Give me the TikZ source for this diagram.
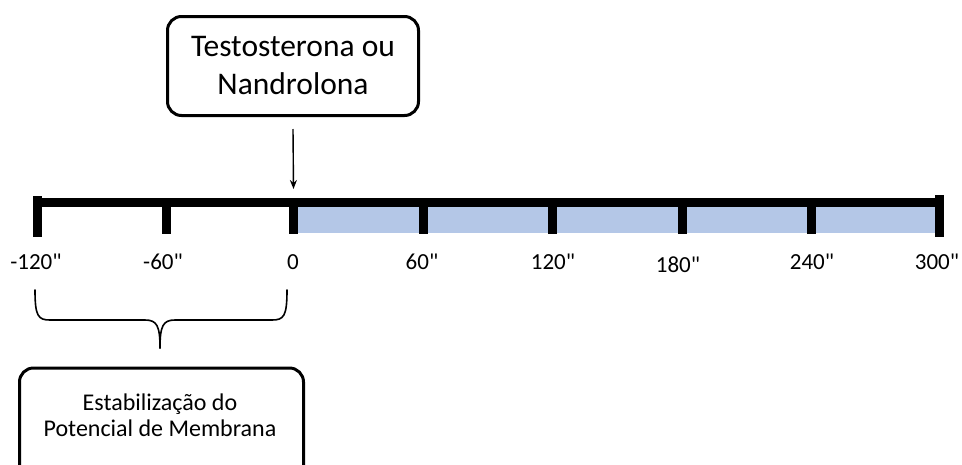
\documentclass[tikz,border=0pt]{standalone}
\usepackage{fontspec}
\setmainfont{Carlito}[Ligatures=TeXOff]
\usetikzlibrary{arrows.meta}
\definecolor{barblue}{HTML}{B4C7E7}
\begin{document}
\begin{tikzpicture}[x=1pt,y=-1pt,
  box/.style={draw, line width=3pt, rounded corners=14pt, align=center, inner sep=0pt},
  lbl/.style={font=\fontsize{23}{27}\selectfont, inner sep=1pt},
  tickbar/.style={line width=9pt},
  bracepath/.style={line width=1.6pt, line cap=round}]
\useasboundingbox (0,0) rectangle (962,464);
\clip (0,0) rectangle (962,464);
% tick coordinates
\coordinate (t0) at (37.5,202);
\coordinate (t1) at (166.5,202);
\coordinate (t2) at (293.5,202);
\coordinate (t3) at (423,202);
\coordinate (t4) at (552.5,202);
\coordinate (t5) at (682,202);
\coordinate (t6) at (811.5,202);
\coordinate (t7) at (939.5,202);
% blue band
\fill[barblue] (t2) rectangle ([yshift=-31pt]t7);
% main bar
\draw[line width=9pt] ([xshift=-4.5pt]t0) -- ([xshift=4.5pt]t7);
% ticks
\draw[tickbar] ([yshift=6pt]t0) -- ([yshift=-35pt]t0);
\foreach \i in {1,...,6}{\draw[tickbar] (t\i) -- ([yshift=-32pt]t\i);}
\draw[tickbar] ([yshift=7pt]t7) -- ([yshift=-35pt]t7);
% labels
\node[lbl] (l0) at (36,262) {-120"};
\node[lbl] (l1) at (163,262) {-60"};
\node[lbl] (l2) at (293,262) {0};
\node[lbl] (l3) at (422,262) {60"};
\node[lbl] (l4) at (553,262) {120"};
\node[lbl] (l5) at (678,265) {180"};
\node[lbl] (l6) at (812,262) {240"};
\node[lbl] (l7) at (937,262) {300"};
% top box and arrow
\node[box, minimum width=251pt, minimum height=99pt,
      font=\fontsize{31.5}{38}\selectfont] (top) at (293,66) {Testosterona ou\\Nandrolona};
\draw[-{Stealth[length=9pt,width=7pt]}, line width=1.4pt] ([yshift=-12pt]top.south) -- ([yshift=13pt]t2);
% brace
\draw[bracepath] (35,290) .. controls (35,316) and (38,320) .. (50,320)
  -- (145,320) .. controls (157,320) and (160,326) .. (160,348);
\draw[bracepath] (287,290) .. controls (287,316) and (284,320) .. (272,320)
  -- (175,320) .. controls (163,320) and (160,326) .. (160,348);
% bottom box
\node[box, minimum width=284pt, minimum height=130pt, anchor=north] (bot) at (161.5,366.5) {};
\node[align=center, font=\fontsize{24}{26}\selectfont] (bottxt) at (160,415)
  {Estabilização do\\Potencial de Membrana};
\end{tikzpicture}
\end{document}
